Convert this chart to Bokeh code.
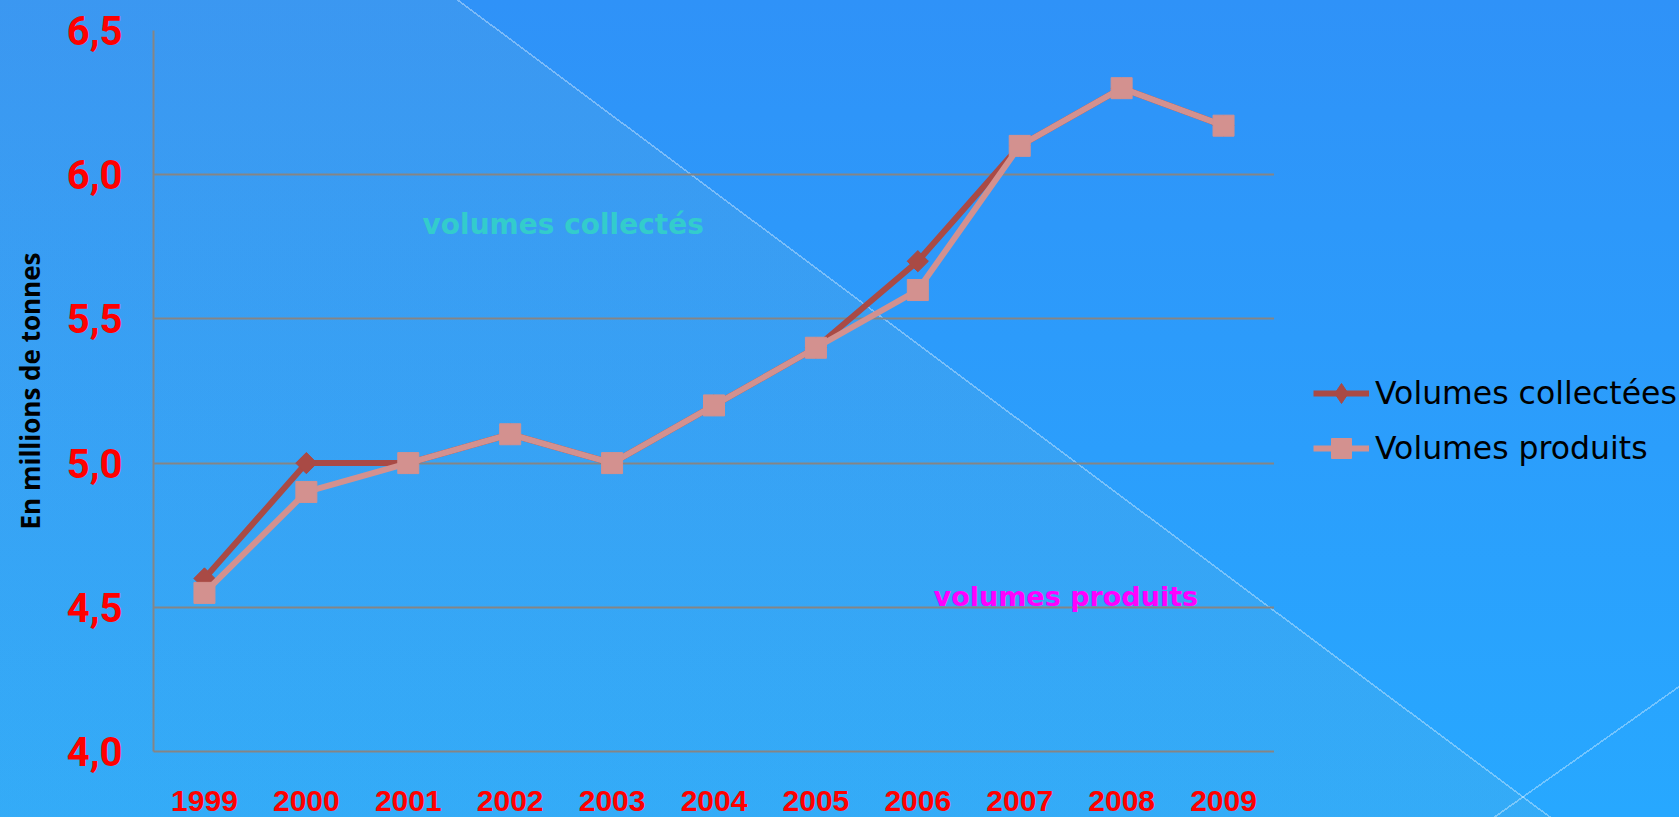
from bokeh.plotting import figure
from bokeh.layouts import row
from bokeh.models import (FactorRange, Range1d, FixedTicker, Legend, LegendItem,
                          Label, GlobalInlineStyleSheet)
from bokeh.embed import file_html
from bokeh.resources import INLINE
import math

# ---- data ----
years = ["1999", "2000", "2001", "2002", "2003", "2004", "2005", "2006", "2007", "2008", "2009"]
volumes_collectees = [4.60, 5.00, 5.00, 5.10, 5.00, 5.20, 5.40, 5.70, 6.10, 6.30, 6.17]
volumes_produits = [4.55, 4.90, 5.00, 5.10, 5.00, 5.20, 5.40, 5.60, 6.10, 6.30, 6.17]
y_ticks = [4.0, 4.5, 5.0, 5.5, 6.0, 6.5]
y_tick_labels = ["4,0", "4,5", "5,0", "5,5", "6,0", "6,5"]
series_names = ["Volumes collectées", "Volumes produits"]
y_axis_title = "En millions de tonnes"
note_collectes = "volumes collectés"
note_produits = "volumes produits"

# ---- page background (CSS on root element) ----
css = """
html {
  height: 100%;
  background-color: #2E9BFB;
  background-image:
    linear-gradient(36.8deg, transparent 0px, transparent 927.6px, rgba(255,255,255,0.35) 927.6px, rgba(255,255,255,0.35) 929.2px, transparent 929.2px),
    linear-gradient(144.75deg, transparent 0px, transparent 1529px, rgba(255,255,255,0.35) 1529px, rgba(255,255,255,0.35) 1530.6px, transparent 1530.6px),
    linear-gradient(36.8deg, rgba(180,205,170,0.09) 0px, rgba(180,205,170,0.09) 928.4px, transparent 928.4px),
    linear-gradient(180deg, #2F92F8 0%, #2B9EFC 55%, #27A8FF 100%);
  background-repeat: no-repeat;
}
body { background: transparent; }
"""

p = figure(x_range=FactorRange(*years, range_padding=0),
           y_range=Range1d(4.0, 6.5),
           width=1274, height=817,
           output_backend="svg", toolbar_location=None,
           min_border_left=153, min_border_right=0,
           min_border_top=30, min_border_bottom=66)
p.stylesheets = [GlobalInlineStyleSheet(css=css)]

p.background_fill_alpha = 0
p.border_fill_alpha = 0
p.outline_line_color = None

# grid
p.xgrid.grid_line_color = None
p.ygrid.ticker = FixedTicker(ticks=y_ticks)
p.ygrid.grid_line_color = "#858585"
p.ygrid.grid_line_width = 2

# y axis
p.yaxis.ticker = FixedTicker(ticks=y_ticks)
p.yaxis.major_label_overrides = dict(zip(y_ticks, y_tick_labels))
p.yaxis.major_label_text_color = "#FF0000"
p.yaxis.major_label_text_font = "Roboto"
p.yaxis.major_label_text_font_style = "bold"
p.yaxis.major_label_text_font_size = "40px"
p.yaxis.major_label_standoff = 31
p.yaxis.major_tick_out = 0
p.yaxis.major_tick_in = 0
p.yaxis.minor_tick_out = 0
p.yaxis.minor_tick_in = 0
p.yaxis.axis_line_color = "#858585"
p.yaxis.axis_line_width = 2
p.yaxis.axis_label = y_axis_title
p.yaxis.axis_label_text_font = "Open Sans"
p.yaxis.axis_label_text_font_style = "bold"
p.yaxis.axis_label_text_font_size = "26px"
p.yaxis.axis_label_text_color = "#000000"
p.yaxis.axis_label_standoff = 16

# x axis
p.xaxis.major_label_text_color = "#FF0000"
p.xaxis.major_label_text_font = "Liberation Sans"
p.xaxis.major_label_text_font_style = "bold"
p.xaxis.major_label_text_font_size = "30px"
p.xaxis.major_label_standoff = 39
p.xaxis.major_tick_out = 0
p.xaxis.major_tick_in = 0
p.xaxis.axis_line_color = "#858585"
p.xaxis.axis_line_width = 2

# series
c1 = "#A94A45"
c2 = "#D3918F"
p.line(years, volumes_collectees, line_color=c1, line_width=6)
p.scatter(years, volumes_collectees, marker="square", angle=math.pi / 4, size=15,
          fill_color=c1, line_color=c1)
p.line(years, volumes_produits, line_color=c2, line_width=6)
p.scatter(years, volumes_produits, marker="square", size=21,
          fill_color=c2, line_color=c2)

# notes
p.add_layout(Label(x=2.64, y=5.828, text=note_collectes, text_color="#33CCCC",
                   text_font="DejaVu Sans", text_font_style="bold",
                   text_font_size="28px", text_baseline="alphabetic"))
p.add_layout(Label(x=7.655, y=4.538, text=note_produits, text_color="#FF00FF",
                   text_font="DejaVu Sans", text_font_style="bold",
                   text_font_size="27px", text_baseline="alphabetic"))

# legend panel (separate transparent figure to the right of the plot);
# its series are drawn out of its visible range so only the legend shows
lf = figure(width=405, height=817, x_range=FactorRange(*years),
            y_range=Range1d(100, 101),
            x_axis_type=None, y_axis_type=None,
            output_backend="svg", toolbar_location=None,
            min_border_left=0, min_border_right=0,
            min_border_top=0, min_border_bottom=0)
lf.background_fill_alpha = 0
lf.border_fill_alpha = 0
lf.outline_line_color = None
lf.xgrid.grid_line_color = None
lf.ygrid.grid_line_color = None
k1 = lf.line(years, volumes_collectees, line_color=c1, line_width=6)
m1 = lf.scatter(years, volumes_collectees, marker="diamond", fill_color=c1, line_color=c1)
k2 = lf.line(years, volumes_produits, line_color=c2, line_width=6)
m2 = lf.scatter(years, volumes_produits, marker="square", fill_color=c2, line_color=c2)

legend = Legend(items=[LegendItem(label=series_names[0], renderers=[k1, m1]),
                       LegendItem(label=series_names[1], renderers=[k2, m2])],
                location=(39, 278), padding=0, margin=0, spacing=5,
                glyph_width=56, glyph_height=50, label_height=50,
                label_standoff=6, border_line_color=None,
                background_fill_alpha=0,
                label_text_font="DejaVu Sans", label_text_font_size="31.5px",
                label_text_color="#000000")
lf.add_layout(legend)

layout = row(p, lf, spacing=0)
open("out.html", "w").write(file_html(layout, INLINE))
